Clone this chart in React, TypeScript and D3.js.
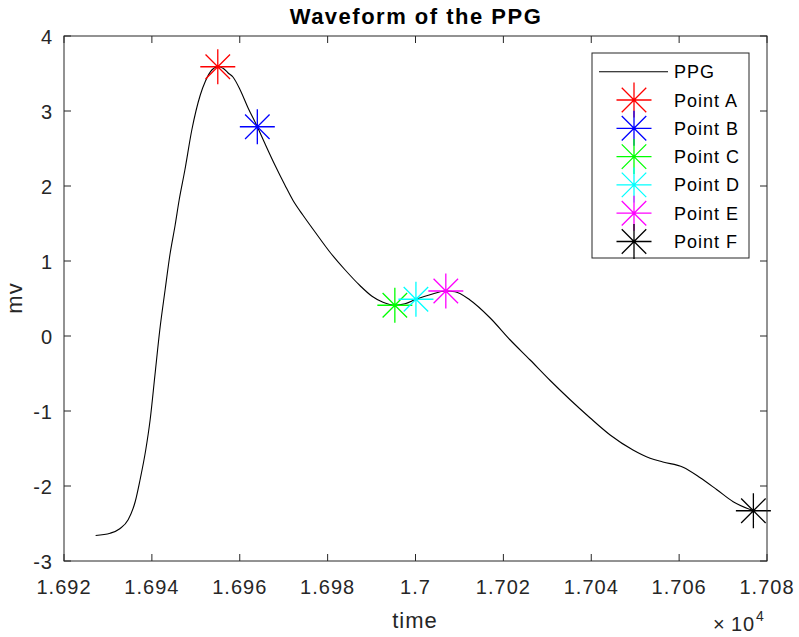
import React from 'react';
import * as d3 from 'd3';

// ---- data ----
const time = [
  16927.2, 16930.5, 16932.7, 16934.6, 16936.2, 16937.3, 16938.6, 16939.6, 16940.7, 16941.8,
  16943.0, 16944.1, 16945.3, 16946.2, 16947.5, 16949.1, 16951.0, 16952.2, 16953.7, 16955.0,
  16956.2, 16957.3, 16958.5, 16960.1, 16961.9, 16964.0, 16965.7, 16968.0, 16970.3, 16972.1,
  16974.4, 16977.1, 16980.5, 16984.0, 16987.4, 16990.1, 16992.6, 16995.3, 16997.6, 17000.1,
  17003.3, 17006.9, 17009.0, 17012.4, 17017.0, 17021.5, 17026.1, 17030.6, 17035.2, 17039.7,
  17044.3, 17049.5, 17053.4, 17056.3, 17060.9, 17064.8, 17068.6, 17072.3, 17076.9,
];
const ppg = [
  -2.66, -2.63, -2.57, -2.45, -2.21, -1.92, -1.52, -1.12, -0.52, 0.08,
  0.61, 1.08, 1.48, 1.81, 2.21, 2.75, 3.21, 3.40, 3.55, 3.59,
  3.57, 3.51, 3.45, 3.28, 3.04, 2.79, 2.57, 2.28, 2.01, 1.81,
  1.61, 1.39, 1.12, 0.88, 0.67, 0.53, 0.45, 0.41, 0.43, 0.49,
  0.55, 0.60, 0.59, 0.48, 0.24, -0.05, -0.32, -0.59, -0.85, -1.09,
  -1.32, -1.52, -1.63, -1.68, -1.75, -1.89, -2.05, -2.21, -2.33,
];

const pointLabels = ['Point A', 'Point B', 'Point C', 'Point D', 'Point E', 'Point F'];
const pointTime = [16955.0, 16964.0, 16995.3, 17000.1, 17006.9, 17076.9];
const pointValue = [3.59, 2.79, 0.41, 0.49, 0.60, -2.33];
const pointColors = ['#ff0000', '#0000ff', '#00ff00', '#00ffff', '#ff00ff', '#000000'];

const xTickValues = [16920, 16940, 16960, 16980, 17000, 17020, 17040, 17060, 17080];
const xTickLabels = ['1.692', '1.694', '1.696', '1.698', '1.7', '1.702', '1.704', '1.706', '1.708'];
const yTickValues = [-3, -2, -1, 0, 1, 2, 3, 4];
const yTickLabels = ['-3', '-2', '-1', '0', '1', '2', '3', '4'];

const W = 799;
const H = 637;
const FONT = '"Liberation Sans", Arial, Helvetica, sans-serif';
const AX = '#262626';

function starPath(cx: number, cy: number, r: number) {
  const d = r * 0.7;
  return `M${cx - r},${cy}H${cx + r}M${cx},${cy - r}V${cy + r}` +
    `M${cx - d},${cy - d}L${cx + d},${cy + d}M${cx - d},${cy + d}L${cx + d},${cy - d}`;
}

export default function App() {
  const x = d3.scaleLinear().domain([16920, 17080]).range([64, 767]);
  const y = d3.scaleLinear().domain([-3, 4]).range([561, 36]);
  const [x0, x1] = x.range();
  const [y0, y1] = y.range();

  const line = d3.line<number>()
    .x((_, i) => x(time[i]))
    .y((d) => y(d))
    .curve(d3.curveMonotoneX);

  const tickLen = 7;
  const legX = 592, legY = 53, legW = 157, legH = 205;
  const rowH = 28.3;
  const firstRow = 71.7;

  return (
    <svg width={W} height={H} style={{ position: 'absolute', left: 0, top: 0, background: '#fff' }}
      fontFamily={FONT}>
      <rect x={0} y={0} width={W} height={H} fill="#fff" />
      {/* plot background */}
      <rect x={x0} y={y1} width={x1 - x0} height={y0 - y1} fill="#fff" />

      {/* data line */}
      <path d={line(ppg) || ''} fill="none" stroke="#000" strokeWidth={1.1} />

      {/* markers */}
      {pointTime.map((t, i) => (
        <path key={i} d={starPath(x(t), y(pointValue[i]), 17.5)} stroke={pointColors[i]}
          strokeWidth={1.3} fill="none" />
      ))}

      {/* axes box */}
      <rect x={x0} y={y1} width={x1 - x0} height={y0 - y1} fill="none" stroke={AX} strokeWidth={1} />
      {xTickValues.map((v, i) => (
        <g key={'xt' + i}>
          <line x1={x(v)} x2={x(v)} y1={y0} y2={y0 - tickLen} stroke={AX} />
          <line x1={x(v)} x2={x(v)} y1={y1} y2={y1 + tickLen} stroke={AX} />
          <text x={x(v)} y={594} textAnchor="middle" fontSize={20} fill={AX} letterSpacing={1}>
            {xTickLabels[i]}
          </text>
        </g>
      ))}
      {yTickValues.map((v, i) => (
        <g key={'yt' + i}>
          <line x1={x0} x2={x0 + tickLen} y1={y(v)} y2={y(v)} stroke={AX} />
          <line x1={x1} x2={x1 - tickLen} y1={y(v)} y2={y(v)} stroke={AX} />
          <text x={53} y={y(v) + 7.5} textAnchor="end" fontSize={20} fill={AX} letterSpacing={1}>
            {yTickLabels[i]}
          </text>
        </g>
      ))}

      {/* exponent */}
      <text x={713} y={631} fontSize={20} fill={AX}>×</text>
      <text x={731} y={631} fontSize={20} fill={AX} letterSpacing={1}>10</text>
      <text x={756} y={621} fontSize={14} fill={AX}>4</text>

      {/* labels */}
      <text x={415} y={628} textAnchor="middle" fontSize={22} fill={AX} letterSpacing={1}>time</text>
      <text transform={`translate(21.5,298) rotate(-90)`} textAnchor="middle" fontSize={22} fill={AX}
        letterSpacing={1}>mv</text>
      <text x={416} y={24} textAnchor="middle" fontSize={22} fontWeight="bold" fill="#000"
        letterSpacing={1.5}>Waveform of the PPG</text>

      {/* legend */}
      <rect x={legX} y={legY} width={legW} height={legH} fill="#fff" stroke={AX} strokeWidth={1} />
      <line x1={599} x2={668} y1={firstRow} y2={firstRow} stroke="#000" strokeWidth={1.1} />
      <text x={674} y={firstRow + 6.5} fontSize={18} fill="#000" letterSpacing={1}>PPG</text>
      {pointLabels.map((lab, i) => {
        const cy = firstRow + rowH * (i + 1);
        return (
          <g key={'lg' + i}>
            <path d={starPath(634, cy, 17.5)} stroke={pointColors[i]} strokeWidth={1.3} fill="none" />
            <text x={674} y={cy + 6.5} fontSize={18} fill="#000" letterSpacing={1}>{lab}</text>
          </g>
        );
      })}
    </svg>
  );
}
